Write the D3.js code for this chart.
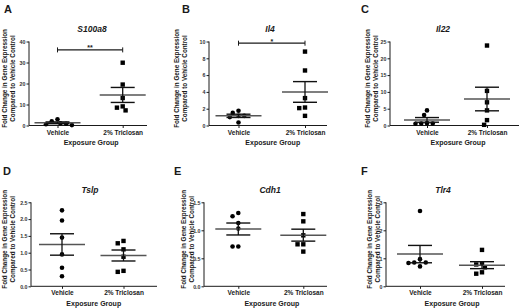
<!DOCTYPE html>
<html>
<head>
<meta charset="utf-8">
<script src="https://cdn.jsdelivr.net/npm/d3@7"></script>
<style>
  html, body { margin: 0; padding: 0; background: #fff; }
  svg { display: block; font-family: "Liberation Sans", Arial, sans-serif; }
</style>
</head>
<body>
<div id="chart"></div>
<script>
/* ── data (fold change) ──────────────────────────────────────────── */
const groups = ['Vehicle', '2% Triclosan'];
const genes  = ['S100a8', 'Il4', 'Il22', 'Tslp', 'Cdh1', 'Tlr4'];
const letters = ['A', 'B', 'C', 'D', 'E', 'F'];

const vehicleVals = [
  [2.0, 0.8, 1.1, 3.0, 0.2, 0.6],
  [1.75, 1.5, 1.15, 1.15, 1.0, 0.35],
  [4.5, 3.1, 0.5, 0.6, 0.7, 0.6],
  [2.26, 1.96, 1.45, 0.95, 0.55, 0.30],
  [1.31, 1.25, 1.13, 1.03, 0.71, 0.71],
  [2.69, 0.97, 0.85, 0.83, 0.85, 0.71]
];
const triclosanVals = [
  [29.9, 19.5, 13.1, 9.1, 8.5, 7.2],
  [8.8, 6.55, 3.26, 2.14, 2.07, 1.15],
  [23.8, 10.3, 6.9, 4.5, 1.6, 0.2],
  [1.35, 1.28, 1.10, 0.88, 0.43, 0.46],
  [1.29, 1.16, 0.91, 0.75, 0.75, 0.62],
  [1.30, 0.78, 0.82, 0.68, 0.45, 0.50]
];
const yMaxes = [40, 10, 25, 2.5, 1.5, 3];
const yTickVals = [
  [0, 10, 20, 30, 40],
  [0, 2, 4, 6, 8, 10],
  [0, 5, 10, 15, 20, 25],
  [0, 0.5, 1.0, 1.5, 2.0, 2.5],
  [0, 0.5, 1.0, 1.5],
  [0, 1, 2, 3]
];
const yTickFmt = ['d', 'd', 'd', '.1f', '.1f', 'd'];
/* significance bracket: [height in data units, label] or null */
const signif = [[36, '**'], [9.8, '*'], null, null, null, null];

/* ── layout (pixels) per panel ───────────────────────────────────── */
const layout = [
  { ax: 29,  ax2: 147, cx: [57.5, 122.7], top: 41.5,  bot: 125.5, lab: [5, 13],     tx: 92,  lx: 4,   ly: 13 },
  { ax: 209, ax2: 327, cx: [238.5, 305],  top: 41.5,  bot: 125.5, lab: [177, 185],  tx: 270, lx: 182, ly: 13 },
  { ax: 390, ax2: 519, cx: [427, 487],    top: 41.5,  bot: 125.5, lab: [367.5, 375.5], tx: 443, lx: 361, ly: 13 },
  { ax: 31,  ax2: 157, cx: [62, 123.5],   top: 202.3, bot: 286.3, lab: [5, 13],     tx: 90,  lx: 3,   ly: 175 },
  { ax: 204, ax2: 327, cx: [238.3, 303.3], top: 202.3, bot: 286.3, lab: [184, 192], tx: 270, lx: 174, ly: 175 },
  { ax: 386, ax2: 505, cx: [420, 482],    top: 202.3, bot: 286.3, lab: [369.5, 377.5], tx: 443, lx: 361, ly: 175 }
];

const W = 520, H = 308;
const INK = '#1a1a1a';

const svg = d3.select('#chart').append('svg')
  .attr('width', W).attr('height', H).attr('viewBox', `0 0 ${W} ${H}`);

/* spread overlapping points sideways (simple deterministic swarm) */
function swarm(vals, y, d) {
  const placed = [];
  const order = vals.map((v, i) => i).sort((a, b) => vals[b] - vals[a]);
  const out = new Array(vals.length);
  order.forEach(i => {
    const py = y(vals[i]);
    const cands = [0];
    for (let k = 1; k < 8; k++) cands.push(-k * d * 0.6, k * d * 0.6);
    let off = 0;
    for (const c of cands) {
      const hit = placed.some(p => Math.hypot(p.x - c, p.y - py) < d);
      if (!hit) { off = c; break; }
    }
    placed.push({ x: off, y: py });
    out[i] = off;
  });
  return out;
}

genes.forEach((gene, i) => {
  const L = layout[i];
  const g = svg.append('g');
  const y = d3.scaleLinear().domain([0, yMaxes[i]]).range([L.bot, L.top]);
  const x = d3.scalePoint().domain(groups).range(L.cx);

  /* y axis */
  const yAx = g.append('g').attr('transform', `translate(${L.ax},0)`)
    .call(d3.axisLeft(y).tickValues(yTickVals[i]).tickSize(2.5).tickPadding(1)
      .tickFormat(d3.format(yTickFmt[i])));
  yAx.select('.domain').attr('stroke', INK).attr('d', `M0,${L.top}V${L.bot}`);
  yAx.selectAll('.tick line').attr('stroke', INK);
  yAx.selectAll('.tick text').attr('font-size', 5.3).attr('font-weight', 'bold')
    .attr('fill', '#333').attr('font-family', '"Liberation Sans", Arial, sans-serif');

  /* x axis */
  const xAx = g.append('g').attr('transform', `translate(0,${L.bot})`)
    .call(d3.axisBottom(x).tickSize(2.5).tickPadding(2));
  xAx.select('.domain').attr('stroke', INK).attr('d', `M${L.ax},0H${L.ax2}`);
  xAx.selectAll('.tick line').attr('stroke', INK);
  xAx.selectAll('.tick text').attr('font-size', 6.5).attr('font-weight', 'bold')
    .attr('fill', INK).attr('font-family', '"Liberation Sans", Arial, sans-serif');

  /* axis titles */
  g.append('text').attr('x', (L.cx[0] + L.cx[1]) / 2 + 1).attr('y', L.bot + 19.5)
    .attr('text-anchor', 'middle').attr('font-size', 7).attr('font-weight', 'bold')
    .attr('fill', INK).text('Exposure Group');

  const ymid = (L.top + L.bot) / 2 - 5;
  ['Fold Change in Gene Expression', 'Compared to Vehicle Control'].forEach((t, k) => {
    g.append('text')
      .attr('transform', `translate(${L.lab[k]},${ymid}) rotate(-90)`)
      .attr('dy', '0.35em').attr('text-anchor', 'middle')
      .attr('font-size', 6.3).attr('font-weight', 'bold').attr('fill', INK).text(t);
  });

  /* gene title + panel letter */
  g.append('text').attr('x', L.tx).attr('y', L.top - 9.5)
    .attr('text-anchor', 'middle').attr('font-size', 8.5).attr('font-weight', 'bold')
    .attr('font-style', 'italic').attr('fill', INK).text(gene);
  g.append('text').attr('x', L.lx).attr('y', L.ly)
    .attr('font-size', 11).attr('font-weight', 'bold').attr('fill', INK).text(letters[i]);

  /* points + mean ± SEM */
  [vehicleVals[i], triclosanVals[i]].forEach((vals, j) => {
    const cx = x(groups[j]);
    const offs = swarm(vals, y, 4.8);
    if (j === 0) {
      g.selectAll(null).data(vals).join('circle')
        .attr('cx', (d, k) => cx + offs[k]).attr('cy', d => y(d))
        .attr('r', 2.3).attr('fill', '#000');
    } else {
      g.selectAll(null).data(vals).join('rect')
        .attr('x', (d, k) => cx + offs[k] - 2.2).attr('y', d => y(d) - 2.2)
        .attr('width', 4.4).attr('height', 4.4).attr('fill', '#000');
    }
    const m = d3.mean(vals);
    const sem = d3.deviation(vals) / Math.sqrt(vals.length);
    g.append('line').attr('x1', cx - 23).attr('x2', cx + 23)
      .attr('y1', y(m)).attr('y2', y(m)).attr('stroke', '#555').attr('stroke-width', 1.5);
    g.append('line').attr('x1', cx).attr('x2', cx)
      .attr('y1', y(m + sem)).attr('y2', y(m - sem)).attr('stroke', '#111').attr('stroke-width', 1.3);
    [m + sem, m - sem].forEach(v => {
      g.append('line').attr('x1', cx - 12).attr('x2', cx + 12)
        .attr('y1', y(v)).attr('y2', y(v)).attr('stroke', '#111').attr('stroke-width', 1.4);
    });
  });

  /* significance bracket */
  if (signif[i]) {
    const [h, lbl] = signif[i];
    const by = y(h), x0 = x(groups[0]), x1 = x(groups[1]);
    g.append('line').attr('x1', x0).attr('x2', x1).attr('y1', by).attr('y2', by)
      .attr('stroke', INK).attr('stroke-width', 1.3);
    [x0, x1].forEach(xx => g.append('line').attr('x1', xx).attr('x2', xx)
      .attr('y1', by - 2.5).attr('y2', by + 2.5).attr('stroke', INK).attr('stroke-width', 1));
    g.append('text').attr('x', (x0 + x1) / 2).attr('y', by + 0.5)
      .attr('text-anchor', 'middle').attr('font-size', 7).attr('font-weight', 'bold')
      .attr('fill', INK).text(lbl);
  }
});
</script>
</body>
</html>
